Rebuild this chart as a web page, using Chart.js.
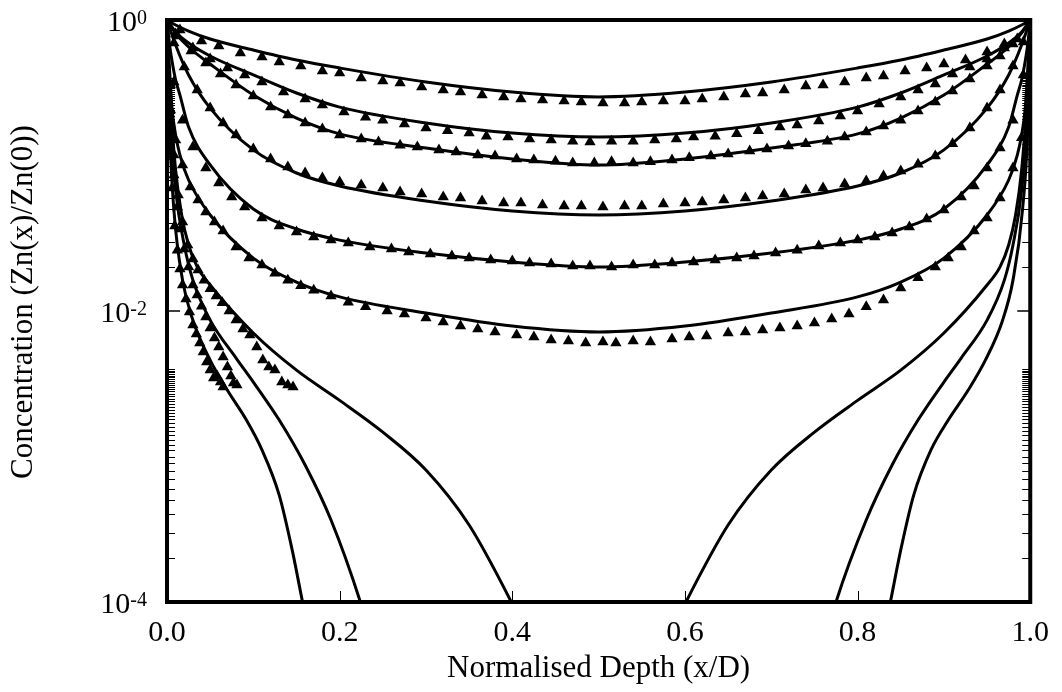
<!DOCTYPE html>
<html>
<head>
<meta charset="utf-8">
<script src="https://cdn.jsdelivr.net/npm/chart.js@4.4.1/dist/chart.umd.min.js"></script>
<style>
  html, body { margin: 0; padding: 0; background: #ffffff; }
  #wrap { width: 1062px; height: 692px; }
</style>
</head>
<body>
<div id="wrap"><canvas id="c" width="1062" height="692"></canvas></div>
<script>
// ---------- Axis text ----------
const xTitle = 'Normalised Depth (x/D)';
const yTitle = 'Concentration (Zn(x)/Zn(0))';
const xTickLabels = ['0.0', '0.2', '0.4', '0.6', '0.8', '1.0'];
const yMajorTicks = [1, 0.01, 0.0001];
const yTickBase = '10';
const yTickExp = ['0', '-2', '-4'];
const xMinorTicks = [0.2, 0.4, 0.6, 0.8];

// ---------- Fitted curves (solid lines) ----------
const gridA = [0, 0.01, 0.025, 0.05, 0.1, 0.15, 0.2, 0.3, 0.4, 0.5, 0.6, 0.7, 0.8, 0.85, 0.9, 0.95, 0.975, 0.99, 1];
const curve1 = [1, 0.924, 0.840, 0.740, 0.622, 0.531, 0.468, 0.375, 0.320, 0.296, 0.320, 0.375, 0.468, 0.531, 0.622, 0.740, 0.840, 0.924, 1];
const curve2 = [1, 0.827, 0.695, 0.566, 0.419, 0.315, 0.252, 0.196, 0.167, 0.157, 0.167, 0.196, 0.252, 0.315, 0.419, 0.566, 0.695, 0.827, 1];
const curve3 = [1, 0.814, 0.652, 0.498, 0.305, 0.212, 0.165, 0.132, 0.111, 0.1007, 0.111, 0.132, 0.165, 0.212, 0.305, 0.498, 0.652, 0.814, 1];
const curve4 = [1, 0.673, 0.419, 0.248, 0.128, 0.0888, 0.0723, 0.0570, 0.0487, 0.0457, 0.0487, 0.0570, 0.0723, 0.0888, 0.128, 0.248, 0.419, 0.673, 1];

const gridB = [0, 0.003, 0.006, 0.01, 0.015, 0.025, 0.05, 0.1, 0.15, 0.2, 0.3, 0.4, 0.5, 0.6, 0.7, 0.8, 0.85, 0.9, 0.95, 0.975, 0.985, 0.99, 0.994, 0.997, 1];
const curve5 = [1, 0.673, 0.514, 0.387, 0.305, 0.184, 0.1008, 0.0502, 0.0366, 0.0307, 0.0250, 0.0217, 0.0201, 0.0217, 0.0250, 0.0307, 0.0366, 0.0502, 0.1008, 0.184, 0.305, 0.387, 0.514, 0.673, 1];
const curve6 = [1, 0.453, 0.241, 0.162, 0.118, 0.0795, 0.0457, 0.0231, 0.0158, 0.0125, 0.00969, 0.00788, 0.00717, 0.00788, 0.00969, 0.0125, 0.0158, 0.0231, 0.0457, 0.0795, 0.118, 0.162, 0.241, 0.453, 1];

const curve7x = [0, 0.003, 0.01, 0.017, 0.025, 0.035, 0.05, 0.1, 0.15, 0.2, 0.25, 0.3, 0.35, 0.4, 0.42, 0.58, 0.6, 0.65, 0.7, 0.75, 0.8, 0.85, 0.9, 0.95, 0.965, 0.975, 0.983, 0.99, 0.997, 1];
const curve7 = [1, 0.330, 0.093, 0.0457, 0.0284, 0.0201, 0.0151, 0.00706, 0.00392, 0.00243, 0.00147, 0.000807, 0.000338, 0.000097, 0.000055, 0.000055, 0.000097, 0.000338, 0.000807, 0.00147, 0.00243, 0.00392, 0.00706, 0.0151, 0.0201, 0.0284, 0.0457, 0.093, 0.330, 1];

const curve8x = [0, 0.003, 0.01, 0.02, 0.03, 0.05, 0.08, 0.1, 0.13, 0.16, 0.19, 0.224, 0.25, 0.75, 0.775, 0.81, 0.84, 0.87, 0.9, 0.92, 0.95, 0.97, 0.98, 0.99, 0.997, 1];
const curve8 = [1, 0.241, 0.0678, 0.0284, 0.0163, 0.00865, 0.00475, 0.00325, 0.00178, 0.000874, 0.000366, 0.0001, 0.000029, 0.000029, 0.0001, 0.000366, 0.000874, 0.00178, 0.00325, 0.00475, 0.00865, 0.0163, 0.0284, 0.0678, 0.241, 1];

const curve9x = [0, 0.003, 0.008, 0.018, 0.03, 0.05, 0.07, 0.092, 0.11, 0.13, 0.145, 0.157, 0.18, 0.815, 0.838, 0.85, 0.865, 0.885, 0.905, 0.928, 0.948, 0.968, 0.98, 0.991, 0.997, 1];
const curve9 = [1, 0.175, 0.0494, 0.0163, 0.00865, 0.00459, 0.00285, 0.00178, 0.00111, 0.000543, 0.000228, 0.0001, 0.000021, 0.000021, 0.0001, 0.000228, 0.000543, 0.00111, 0.00178, 0.00285, 0.00459, 0.00865, 0.0163, 0.0494, 0.175, 1];

// ---------- Measured data (triangles) ----------
const set1x = [0.015, 0.04, 0.06, 0.085, 0.11, 0.13, 0.155, 0.18, 0.2, 0.225, 0.25, 0.27, 0.295, 0.32, 0.34, 0.365, 0.39, 0.41, 0.435, 0.46, 0.48, 0.505, 0.53, 0.55, 0.575, 0.6, 0.62, 0.645, 0.67, 0.69, 0.715, 0.74, 0.76, 0.785, 0.81, 0.83, 0.855, 0.88, 0.9, 0.925, 0.95, 0.97];
const set1y = [0.854, 0.717, 0.663, 0.593, 0.557, 0.514, 0.483, 0.446, 0.432, 0.399, 0.381, 0.369, 0.346, 0.330, 0.320, 0.305, 0.296, 0.286, 0.282, 0.278, 0.273, 0.269, 0.269, 0.273, 0.278, 0.278, 0.286, 0.296, 0.310, 0.315, 0.330, 0.352, 0.357, 0.375, 0.399, 0.412, 0.446, 0.468, 0.498, 0.531, 0.603, 0.684];

const set2x = [0.01, 0.03, 0.05, 0.07, 0.09, 0.11, 0.135, 0.16, 0.18, 0.205, 0.23, 0.25, 0.275, 0.3, 0.325, 0.35, 0.37, 0.395, 0.42, 0.445, 0.47, 0.49, 0.515, 0.54, 0.565, 0.59, 0.61, 0.635, 0.66, 0.685, 0.71, 0.73, 0.755, 0.78, 0.8, 0.825, 0.85, 0.87, 0.89, 0.91, 0.93, 0.95, 0.97, 0.985];
const set2y = [0.801, 0.642, 0.540, 0.468, 0.419, 0.375, 0.320, 0.286, 0.260, 0.233, 0.215, 0.205, 0.193, 0.181, 0.173, 0.167, 0.159, 0.157, 0.152, 0.150, 0.147, 0.145, 0.147, 0.147, 0.150, 0.152, 0.157, 0.159, 0.165, 0.173, 0.184, 0.190, 0.202, 0.219, 0.237, 0.265, 0.296, 0.330, 0.363, 0.425, 0.475, 0.540, 0.642, 0.740];

const set3x = [0.012, 0.028, 0.045, 0.062, 0.08, 0.1, 0.12, 0.14, 0.16, 0.18, 0.2, 0.225, 0.245, 0.27, 0.29, 0.315, 0.335, 0.36, 0.38, 0.405, 0.425, 0.45, 0.47, 0.495, 0.515, 0.54, 0.56, 0.585, 0.605, 0.63, 0.65, 0.675, 0.695, 0.72, 0.74, 0.765, 0.785, 0.81, 0.83, 0.85, 0.87, 0.89, 0.91, 0.93, 0.95, 0.965, 0.98];
const set3y = [0.776, 0.612, 0.506, 0.425, 0.357, 0.300, 0.252, 0.222, 0.196, 0.178, 0.162, 0.152, 0.145, 0.138, 0.134, 0.128, 0.124, 0.118, 0.116, 0.111, 0.109, 0.107, 0.104, 0.104, 0.106, 0.104, 0.106, 0.109, 0.113, 0.116, 0.120, 0.126, 0.130, 0.136, 0.141, 0.147, 0.157, 0.170, 0.187, 0.205, 0.237, 0.273, 0.325, 0.393, 0.483, 0.566, 0.684];

const set4x = [0.008, 0.02, 0.035, 0.05, 0.065, 0.08, 0.1, 0.12, 0.14, 0.16, 0.18, 0.2, 0.225, 0.25, 0.27, 0.295, 0.32, 0.34, 0.365, 0.39, 0.41, 0.435, 0.46, 0.48, 0.505, 0.53, 0.55, 0.575, 0.6, 0.62, 0.645, 0.67, 0.69, 0.715, 0.74, 0.76, 0.785, 0.81, 0.83, 0.85, 0.87, 0.89, 0.91, 0.93, 0.95, 0.965, 0.98, 0.992];
const set4y = [0.695, 0.475, 0.330, 0.248, 0.196, 0.162, 0.130, 0.111, 0.0976, 0.0888, 0.0820, 0.0770, 0.0734, 0.0700, 0.0657, 0.0637, 0.0607, 0.0598, 0.0570, 0.0553, 0.0553, 0.0535, 0.0527, 0.0527, 0.0519, 0.0527, 0.0527, 0.0544, 0.0553, 0.0561, 0.0579, 0.0598, 0.0617, 0.0637, 0.0679, 0.0700, 0.0746, 0.0782, 0.0847, 0.0917, 0.102, 0.116, 0.141, 0.181, 0.248, 0.330, 0.483, 0.706];

const set5x = [0.008, 0.018, 0.03, 0.045, 0.06, 0.075, 0.09, 0.11, 0.13, 0.15, 0.17, 0.19, 0.21, 0.235, 0.26, 0.28, 0.305, 0.33, 0.35, 0.375, 0.4, 0.42, 0.445, 0.47, 0.49, 0.515, 0.54, 0.565, 0.585, 0.61, 0.635, 0.66, 0.68, 0.705, 0.73, 0.755, 0.78, 0.8, 0.82, 0.84, 0.86, 0.88, 0.9, 0.92, 0.935, 0.95, 0.965, 0.98, 0.992];
const set5y = [0.375, 0.205, 0.134, 0.0961, 0.0758, 0.0607, 0.0519, 0.0436, 0.0384, 0.0349, 0.0323, 0.0308, 0.0293, 0.0275, 0.0267, 0.0254, 0.0246, 0.0239, 0.0231, 0.0224, 0.0221, 0.0214, 0.0210, 0.0204, 0.0204, 0.0201, 0.0207, 0.0207, 0.0214, 0.0217, 0.0224, 0.0231, 0.0239, 0.0250, 0.0262, 0.0280, 0.0293, 0.0308, 0.0323, 0.0344, 0.0378, 0.0429, 0.0494, 0.0607, 0.0723, 0.0961, 0.132, 0.205, 0.419];

const set6x = [0.004, 0.01, 0.018, 0.027, 0.036, 0.045, 0.055, 0.065, 0.08, 0.095, 0.11, 0.125, 0.14, 0.155, 0.17, 0.19, 0.21, 0.23, 0.255, 0.275, 0.3, 0.32, 0.34, 0.36, 0.38, 0.405, 0.425, 0.445, 0.465, 0.485, 0.505, 0.52, 0.54, 0.56, 0.585, 0.605, 0.625, 0.65, 0.67, 0.69, 0.71, 0.73, 0.75, 0.77, 0.79, 0.81, 0.83, 0.85, 0.87, 0.89, 0.905, 0.92, 0.935, 0.95, 0.965, 0.98, 0.99];
const set6y = [0.357, 0.150, 0.1008, 0.0711, 0.0579, 0.0479, 0.0409, 0.0355, 0.0275, 0.0231, 0.0207, 0.0182, 0.0163, 0.0149, 0.0139, 0.0127, 0.0115, 0.0107, 0.0100, 0.00954, 0.00895, 0.00840, 0.00788, 0.00752, 0.00717, 0.00684, 0.00663, 0.00632, 0.00622, 0.00603, 0.00612, 0.00603, 0.00622, 0.00612, 0.00642, 0.00663, 0.00673, 0.00706, 0.00717, 0.00740, 0.00764, 0.00788, 0.00827, 0.00881, 0.00954, 0.0107, 0.0119, 0.0144, 0.0169, 0.0201, 0.0231, 0.0275, 0.0355, 0.0436, 0.0598, 0.0961, 0.155];

const set7x = [0.004, 0.008, 0.013, 0.018, 0.024, 0.03, 0.036, 0.043, 0.05, 0.057, 0.064, 0.072, 0.08, 0.088, 0.096, 0.104, 0.111, 0.118, 0.125, 0.133, 0.14, 0.146];
const set7y = [0.241, 0.118, 0.0627, 0.0409, 0.0284, 0.0228, 0.0191, 0.0163, 0.0142, 0.0127, 0.0114, 0.0100, 0.00867, 0.00752, 0.00684, 0.00566, 0.00460, 0.00412, 0.00393, 0.00325, 0.00310, 0.00300];

const set8x = [0.004, 0.008, 0.012, 0.016, 0.02, 0.025, 0.03, 0.035, 0.04, 0.045, 0.05, 0.055, 0.06, 0.065, 0.07, 0.074, 0.077, 0.081];
const set8y = [0.175, 0.0860, 0.0519, 0.0366, 0.0267, 0.0201, 0.0151, 0.0129, 0.0108, 0.00910, 0.00764, 0.00652, 0.00566, 0.00483, 0.00412, 0.00357, 0.00320, 0.00310];

const set9x = [0.003, 0.006, 0.009, 0.012, 0.015, 0.018, 0.022, 0.026, 0.03, 0.034, 0.038, 0.042, 0.046, 0.05, 0.054, 0.058, 0.062, 0.065];
const set9y = [0.150, 0.0700, 0.0384, 0.0262, 0.0194, 0.0151, 0.0121, 0.00984, 0.00801, 0.00695, 0.00603, 0.00523, 0.00446, 0.00393, 0.00346, 0.00357, 0.00325, 0.00300];

// ---------- Build datasets ----------
const FONT = "'Liberation Serif', 'Times New Roman', Times, serif";
function pairs(xs, ys) { return xs.map((x, i) => ({ x: x, y: ys[i] })); }
function curveDs(xs, ys) {
  return { data: pairs(xs, ys), showLine: true, borderColor: '#000', borderWidth: 3,
           pointRadius: 0, fill: false, cubicInterpolationMode: 'monotone', order: 2 };
}
function markDs(xs, ys) {
  return { data: pairs(xs, ys), showLine: false, pointStyle: 'triangle', pointRadius: 6.5,
           backgroundColor: '#000', borderColor: '#000', borderWidth: 0, order: 1 };
}
const datasets = [
  curveDs(gridA, curve1), curveDs(gridA, curve2), curveDs(gridA, curve3), curveDs(gridA, curve4),
  curveDs(gridB, curve5), curveDs(gridB, curve6),
  curveDs(curve7x, curve7), curveDs(curve8x, curve8), curveDs(curve9x, curve9),
  markDs(set1x, set1y), markDs(set2x, set2y), markDs(set3x, set3y), markDs(set4x, set4y),
  markDs(set5x, set5y), markDs(set6x, set6y), markDs(set7x, set7y), markDs(set8x, set8y), markDs(set9x, set9y)
];

// minor log ticks: k*10^-4 and k*10^-2 for k = 2..40
const yMinorTicks = [];
for (let k = 2; k <= 40; k++) { yMinorTicks.push(k * 1e-4); yMinorTicks.push(k * 1e-2); }

const framePlugin = {
  id: 'frame',
  afterDatasetsDraw(chart) {
    const ctx = chart.ctx;
    const a = chart.chartArea;
    const xs = chart.scales.x, ys = chart.scales.y;
    ctx.save();
    ctx.strokeStyle = '#000';
    ctx.lineWidth = 1;
    yMinorTicks.forEach(v => {
      const y = Math.round(ys.getPixelForValue(v)) + 0.5;
      ctx.beginPath();
      ctx.moveTo(a.left, y); ctx.lineTo(a.left + 8, y);
      ctx.moveTo(a.right, y); ctx.lineTo(a.right - 8, y);
      ctx.stroke();
    });
    ctx.lineWidth = 1.5;
    yMajorTicks.forEach(v => {
      const y = ys.getPixelForValue(v);
      ctx.beginPath();
      ctx.moveTo(a.left, y); ctx.lineTo(a.left + 13, y);
      ctx.moveTo(a.right, y); ctx.lineTo(a.right - 13, y);
      ctx.stroke();
    });
    ctx.lineWidth = 1;
    xMinorTicks.forEach(v => {
      const x = Math.round(xs.getPixelForValue(v)) + 0.5;
      ctx.beginPath();
      ctx.moveTo(x, a.bottom); ctx.lineTo(x, a.bottom - 11);
      ctx.stroke();
    });
    ctx.lineWidth = 4;
    ctx.strokeRect(a.left, a.top, a.right - a.left, a.bottom - a.top);
    ctx.fillStyle = '#000';
    ctx.textBaseline = 'alphabetic';
    yMajorTicks.forEach((v, i) => {
      const y = ys.getPixelForValue(v);
      const right = a.left - 20;
      ctx.font = '20px ' + FONT;
      ctx.textAlign = 'right';
      const ew = ctx.measureText(yTickExp[i]).width;
      ctx.fillText(yTickExp[i], right, y + 4);
      ctx.font = '30px ' + FONT;
      ctx.fillText(yTickBase, right - ew, y + 11);
    });
    // y axis title (rotated)
    ctx.save();
    ctx.translate(24, (a.top + a.bottom) / 2 - 9);
    ctx.rotate(-Math.PI / 2);
    ctx.font = '31px ' + FONT;
    ctx.textAlign = 'center';
    ctx.textBaseline = 'middle';
    ctx.fillText(yTitle, 0, 0);
    ctx.restore();
    ctx.restore();
  }
};

new Chart(document.getElementById('c'), {
  type: 'scatter',
  data: { datasets: datasets },
  options: {
    animation: false,
    responsive: false,
    devicePixelRatio: 1,
    layout: { padding: { left: 0, top: 20, right: 28, bottom: 0 } },
    plugins: { legend: { display: false }, tooltip: { enabled: false } },
    scales: {
      x: {
        type: 'linear', min: 0, max: 1,
        grid: { display: false, drawTicks: false },
        border: { display: false },
        ticks: { stepSize: 0.2, color: '#000', padding: 13, maxRotation: 0,
                 font: { family: FONT, size: 30 },
                 callback: (v, i) => xTickLabels[i] },
        title: { display: true, text: xTitle, color: '#000', font: { family: FONT, size: 31 },
                 padding: { top: 0, bottom: 5 } },
        afterFit: s => { s.height = 90; }
      },
      y: {
        type: 'logarithmic', min: 1e-4, max: 1,
        grid: { display: false, drawTicks: false },
        border: { display: false },
        ticks: { display: false },
        title: { display: false },
        afterFit: s => { s.width = 167; }
      }
    }
  },
  plugins: [framePlugin]
});
</script>
</body>
</html>
